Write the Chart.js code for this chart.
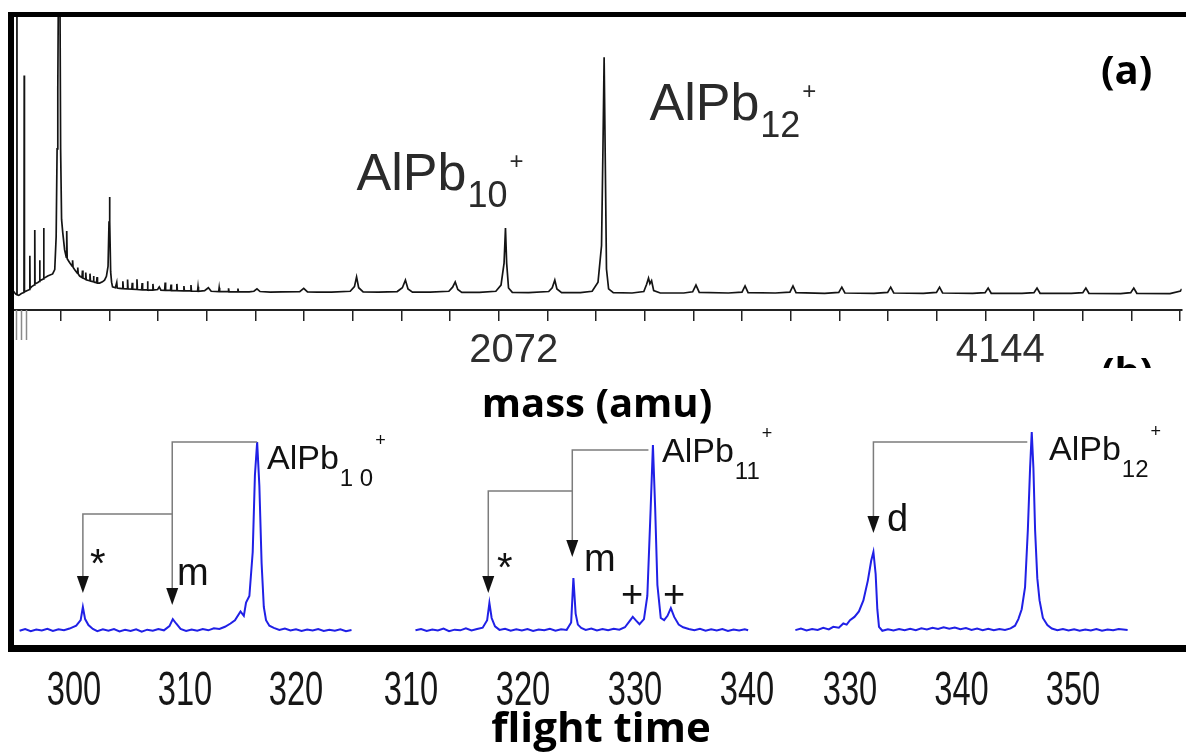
<!DOCTYPE html>
<html>
<head>
<meta charset="utf-8">
<script src="https://cdn.jsdelivr.net/npm/chart.js@4.4.0/dist/chart.umd.min.js"></script>
<style>
  body { margin: 0; background: #fff; }
  #wrap { position: relative; width: 1186px; height: 755px; overflow: hidden; background: #fff; }
  canvas { position: absolute; left: 0; }
  .bar { position: absolute; background: #000; }
</style>
</head>
<body>
<div id="wrap">
  <canvas id="chartA" width="1186" height="380" style="top:0"></canvas>
  <canvas id="chartB" width="1186" height="375" style="top:380px"></canvas>
  <div class="bar" style="left:8px;top:12px;width:6px;height:640px"></div>
  <div class="bar" style="left:8px;top:12px;width:1178px;height:5px"></div>
  <div class="bar" style="left:8px;top:645px;width:1178px;height:7px"></div>
</div>
<script>
// ---- panel (a): mass spectrum, [mass (amu), intensity] ----
const specA = [
  [0,6.0],[8,6.2],[16,5.4],[20.5,5.2],[21,130],[21.5,5.2],[29,5.0],[40,5.6],[51,6.0],[52,80],[53,6.2],
  [63,6.6],[75,7.0],[76,18.5],[77,7.4],[84,8.0],[96,8.6],[97,27.3],[98,8.9],[110,9.4],[117,9.8],[118,17],
  [119,10],[134,10.6],[135,28],[136,10.8],[152,11.6],[173,12.3],[182,13.8],[188,25],[192,55],[195,75],
  [199,130],[203,130],[207,55],[211,31],[216,26.5],[224,20.5],[231,18],[233,27],[235,17.5],[245,16.2],
  [256,15],[258,17],[260,14.6],[267,13.7],[278,12.6],[280,14.5],[282,12.3],[288,11.6],[298,11.1],[300,13.5],
  [302,10.9],[312,10.5],[314,12.8],[316,10.3],[330,10.0],[332,12.4],[334,9.9],[345,9.7],[347,11.6],[349,9.6],
  [360,9.3],[362,11.2],[364,9.2],[373,9.2],[385,9.6],[394,10.2],[402,11.5],[409,15],[413,30],[415,38.6],
  [417,30],[420,13],[424,9.5],[428,7.9],[440,7.6],[446,9.4],[448,7.5],[458,7.4],[470,7.3],[472,9.8],[474,7.3],
  [490,7.2],[492,10.4],[494,7.2],[510,7.1],[512,9.3],[514,7.1],[530,7.0],[532,10.5],[534,7.0],[552,6.9],
  [554,9.2],[556,6.9],[575,6.9],[577,9.8],[579,6.8],[598,6.8],[600,8.9],[602,6.8],[620,7.0],[627,7.9],
  [634,6.8],[650,6.7],[652,9.4],[654,6.7],[675,6.7],[677,8.7],[679,6.6],[700,6.6],[702,8.9],[704,6.6],
  [730,6.5],[732,8.2],[734,6.5],[760,6.5],[762,8.5],[764,6.4],[790,6.4],[792,7.9],[794,6.4],[820,6.6],
  [836,7.6],[848,6.4],[880,6.3],[882,7.6],[884,6.3],[920,6.3],[922,7.4],[924,6.2],[960,6.2],[962,7.3],
  [964,6.2],[1010,6.2],[1030,6.4],[1043,7.2],[1056,6.3],[1100,6.1],[1150,6.2],[1225,6.3],[1242,7.4],
  [1258,6.2],[1300,6.1],[1360,6.1],[1440,6.4],[1458,8.0],[1467,11.3],[1476,7.6],[1495,6.2],[1560,6.1],
  [1640,6.3],[1662,7.6],[1675,10.2],[1686,7.2],[1705,6.1],[1780,6.1],[1860,6.4],[1876,7.8],[1887,9.6],
  [1898,7.0],[1915,6.0],[1990,6.0],[2060,6.4],[2082,8.5],[2095,16],[2101,28],[2106,16],[2114,7.5],
  [2130,6.0],[2200,5.9],[2285,6.3],[2300,7.6],[2311,10.2],[2320,7.2],[2340,5.9],[2420,5.9],[2470,6.4],
  [2495,9.5],[2510,22],[2516,55],[2521,86.3],[2526,50],[2531,14],[2540,7.2],[2560,5.9],[2640,5.8],
  [2690,6.3],[2702,8.8],[2710,10.9],[2716,9.0],[2723,10],[2732,6.6],[2760,5.8],[2860,5.8],[2898,6.2],
  [2912,8.5],[2926,6.0],[3050,5.8],[3108,6.1],[3121,8.2],[3134,5.9],[3250,5.8],[3312,6.1],[3325,8.2],
  [3338,5.9],[3460,5.7],[3520,6.0],[3533,7.8],[3546,5.8],[3670,5.7],[3728,6.0],[3741,7.8],[3754,5.8],
  [3880,5.7],[3936,6.0],[3949,7.8],[3962,5.8],[4090,5.7],[4143,5.9],[4156,7.5],[4169,5.7],[4300,5.7],
  [4351,5.9],[4364,7.5],[4377,5.7],[4510,5.7],[4559,5.9],[4572,7.5],[4585,5.7],[4720,5.6],[4763,5.9],
  [4776,7.5],[4789,5.7],[4930,5.6],[4975,6.5],[4980,7.2]
];
const massTicks = [207.2,414.4,621.6,828.8,1036,1243.2,1450.4,1657.6,1864.8,2072,2279.2,2486.4,
  2693.6,2900.8,3108,3315.2,3522.4,3729.6,3936.8,4144,4351.2,4558.4,4765.6,4972.8];
const massLabels = [2072, 4144];

// ---- panel (b): three flight time windows, [time, intensity] ----
const seg1 = [
  [295.1,4.2],[295.6,5.0],[296.1,4.0],[296.6,4.8],[297.1,4.3],[297.6,5.1],[298.1,4.1],[298.6,4.9],[299.1,4.4],
  [299.6,5.2],[300.2,6.5],[300.6,9.0],[300.8,15],[301.0,9.5],[301.3,6.8],[301.7,5.0],[302.1,4.0],[302.6,4.9],
  [303.1,4.2],[303.6,5.0],[304.1,3.9],[304.6,4.6],[305.1,4.1],[305.6,4.9],[306.1,3.8],[306.6,4.7],[307.1,4.2],
  [307.6,5.0],[308.1,4.4],[308.6,6.3],[308.9,9.5],[309.2,7.5],[309.6,5.0],[310.1,4.1],[310.6,4.8],[311.1,4.2],
  [311.6,5.0],[312.1,4.4],[312.6,5.3],[313.1,5.0],[313.6,6.0],[314.1,7.5],[314.5,9.0],[315.0,13],[315.3,11],
  [315.5,17],[315.8,20],[316.1,40],[316.3,75],[316.5,90],[316.7,70],[316.9,35],[317.1,15],[317.3,9],
  [317.6,6.5],[318.0,5.5],[318.5,4.6],[319.0,5.2],[319.5,4.3],[320.0,4.9],[320.5,4.1],[321.0,4.8],[321.5,4.3],
  [322.0,5.0],[322.5,4.1],[323.0,4.7],[323.5,4.2],[324.0,4.9],[324.5,4.0],[325.0,4.5]
];
const seg2 = [
  [310.4,4.4],[310.9,5.0],[311.4,4.1],[311.9,4.8],[312.4,4.3],[312.9,5.2],[313.4,4.0],[313.9,4.7],[314.4,4.4],
  [314.9,5.3],[315.4,4.3],[315.9,5.0],[316.4,5.6],[316.8,9],[317.0,16.8],[317.2,10],[317.5,6.2],[317.9,4.6],
  [318.4,5.1],[318.9,4.2],[319.4,4.9],[319.9,4.3],[320.4,5.0],[320.9,4.1],[321.4,4.8],[321.9,4.4],[322.4,5.1],
  [322.9,4.2],[323.4,4.9],[323.9,4.6],[324.3,8],[324.5,28.2],[324.7,12],[324.9,7],[325.2,5.5],[325.6,4.6],
  [326.1,5.2],[326.6,4.3],[327.1,5.0],[327.6,4.4],[328.1,5.1],[328.6,4.7],[329.1,5.8],[329.5,8.5],[329.8,10.5],
  [330.1,8.8],[330.4,7.2],[330.8,9.5],[331.1,20],[331.4,60],[331.6,88.6],[331.8,60],[332.0,25],[332.3,10],
  [332.6,9],[332.9,11],[333.2,14.5],[333.5,10.5],[333.9,7.0],[334.3,5.8],[334.8,5.0],[335.3,4.4],[335.8,5.1],
  [336.3,4.2],[336.8,4.9],[337.3,4.3],[337.8,5.0],[338.3,4.1],[338.8,4.8],[339.3,4.3],[339.8,4.9],[340.1,4.4]
];
const seg3 = [
  [325.1,4.5],[325.6,5.2],[326.1,4.3],[326.6,5.0],[327.1,4.6],[327.6,5.5],[328.1,4.8],[328.5,6.0],[329.0,5.6],
  [329.4,7.5],[329.7,7.0],[330.0,9.0],[330.4,10.5],[330.8,13],[331.2,18],[331.6,27],[331.9,36],[332.1,40],
  [332.3,30],[332.45,14],[332.6,6.0],[332.9,4.2],[333.4,4.9],[333.9,4.3],[334.4,5.0],[334.9,4.4],[335.4,5.1],
  [335.9,4.5],[336.4,5.3],[336.9,4.8],[337.4,5.6],[337.9,5.0],[338.4,5.8],[338.9,5.1],[339.4,5.7],[339.9,4.9],
  [340.4,5.4],[340.9,4.6],[341.4,5.2],[341.9,4.5],[342.4,5.1],[342.9,4.4],[343.4,5.0],[343.9,4.6],[344.4,5.3],
  [344.8,6.5],[345.1,9.5],[345.4,14],[345.7,24],[345.95,50],[346.15,78],[346.3,94.5],[346.45,78],[346.6,50],
  [346.8,28],[347.0,18],[347.3,10],[347.7,6.8],[348.1,5.2],[348.6,4.4],[349.1,5.0],[349.6,4.3],[350.1,4.9],
  [350.6,4.2],[351.1,4.8],[351.6,4.3],[352.1,5.0],[352.6,4.2],[353.1,4.8],[353.6,4.4],[354.1,5.0],[354.9,4.5]
];
const seg1Ticks = [300, 310, 320];
const seg2Ticks = [310, 320, 330, 340];
const seg3Ticks = [330, 340, 350];

// fragment arrows (parent -> product), in data units of each window
const arrows = [
  {axis: 'x1', pts: [[316.5, 90], [308.85, 90], [308.85, 15.9]]},
  {axis: 'x1', pts: [[308.85, 57.3], [300.8, 57.3], [300.8, 21.4]]},
  {axis: 'x2', pts: [[331.2, 86.4], [324.4, 86.4], [324.4, 37.7]]},
  {axis: 'x2', pts: [[324.4, 67.7], [316.9, 67.7], [316.9, 21.4]]},
  {axis: 'x3', pts: [[345.9, 90], [332.1, 90], [332.1, 48.6]]}
];
const marksB = [
  {axis: 'x1', x: 301.44, y: 28.6, t: '*', size: 40},
  {axis: 'x1', x: 309.28, y: 25.0, t: 'm', size: 38},
  {axis: 'x2', x: 317.68, y: 26.8, t: '*', size: 40},
  {axis: 'x2', x: 325.45, y: 31.4, t: 'm', size: 38},
  {axis: 'x2', x: 328.75, y: 15.0, t: '+', size: 38},
  {axis: 'x2', x: 332.5, y: 15.0, t: '+', size: 38},
  {axis: 'x3', x: 333.32, y: 49.5, t: 'd', size: 38}
];
const chemB = [
  {axis: 'x1', x: 317.39, y: 77.7, sub: '1 0'},
  {axis: 'x2', x: 332.41, y: 80.9, sub: '11'},
  {axis: 'x3', x: 347.85, y: 81.8, sub: '12'}
];
const chemA = [
  {x: 1467, y: 41, sub: '10'},
  {x: 2714, y: 64.8, sub: '12'}
];

const SANS = '"Liberation Sans", Arial, sans-serif';
const BOLD = '"Open Sans", sans-serif';

function drawChem(ctx, x, y, sub, b, s, p, subDy, supDy) {
  ctx.textAlign = 'left';
  ctx.textBaseline = 'alphabetic';
  ctx.font = b + 'px ' + SANS;
  ctx.fillText('AlPb', x, y);
  let w = ctx.measureText('AlPb').width;
  ctx.font = s + 'px ' + SANS;
  ctx.fillText(sub, x + w + 1, y + subDy);
  w += ctx.measureText(sub).width;
  ctx.font = p + 'px ' + SANS;
  ctx.fillText('+', x + w + 3, y + supDy);
}

const annotA = {
  id: 'annotA',
  afterDatasetsDraw(chart) {
    const ctx = chart.ctx, xs = chart.scales.x, ys = chart.scales.y;
    ctx.save();
    ctx.fillStyle = '#2a2a2a';
    chemA.forEach(c => drawChem(ctx, xs.getPixelForValue(c.x), ys.getPixelForValue(c.y), c.sub, 52, 36, 24, 17, -21));
    // stray spikes reaching below the axis
    ctx.strokeStyle = '#8a8a8a';
    ctx.lineWidth = 1.5;
    [16, 38, 58].forEach(m => {
      const px = Math.round(xs.getPixelForValue(m)) + 0.5;
      ctx.beginPath(); ctx.moveTo(px, chart.chartArea.bottom); ctx.lineTo(px, chart.chartArea.bottom + 30); ctx.stroke();
    });
    ctx.fillStyle = '#000';
    ctx.font = 'bold 40px ' + BOLD;
    ctx.fillText('(a)', 1101, 84);
    ctx.beginPath(); ctx.rect(0, 0, 1186, 368); ctx.clip();
    ctx.fillText('(b)', 1101, 386);
    ctx.restore();
  }
};

const chartA = new Chart(document.getElementById('chartA'), {
  type: 'line',
  data: {
    datasets: [{
      data: specA.map(p => ({x: p[0], y: p[1]})),
      borderColor: '#141414',
      borderWidth: 1.7,
      pointRadius: 0,
      tension: 0
    }]
  },
  options: {
    responsive: false,
    animation: false,
    layout: {padding: {left: 12, right: 0, top: 17, bottom: 0}},
    plugins: {legend: {display: false}, tooltip: {enabled: false}},
    scales: {
      x: {
        type: 'linear', min: 0, max: 4980,
        afterBuildTicks: s => { s.ticks = massTicks.map(v => ({value: v})); },
        afterFit: s => { s.height = 70; },
        grid: {drawOnChartArea: false, drawTicks: true, tickLength: 11, color: '#222', lineWidth: 1.5},
        border: {display: true, color: '#222', width: 2},
        ticks: {
          autoSkip: false, maxRotation: 0, padding: 6, labelOffset: 15,
          color: '#2e2e2e', font: {family: SANS, size: 40},
          callback: v => massLabels.includes(Math.round(v)) ? String(Math.round(v)) : ''
        }
      },
      y: {display: false, min: 0, max: 100}
    }
  },
  plugins: [annotA]
});

// each window gets its own x scale across the full plot width;
// [anchor value, anchor pixel, pixels per unit]
const winLayout = {x1: [300, 74, 11.1], x2: [310, 411, 11.2], x3: [330, 850, 11.15]};
const areaL = 13, areaR = 1186;
function winScale(id) {
  const [v, px, k] = winLayout[id];
  return {type: 'linear', axis: 'x', position: 'bottom', display: false,
          min: v - (px - areaL) / k, max: v + (areaR - px) / k};
}

const annotB = {
  id: 'annotB',
  afterDatasetsDraw(chart) {
    const ctx = chart.ctx, ys = chart.scales.y;
    ctx.save();
    arrows.forEach(a => {
      const xs = chart.scales[a.axis];
      const p = a.pts.map(q => [xs.getPixelForValue(q[0]), ys.getPixelForValue(q[1])]);
      ctx.strokeStyle = '#7c7c7c';
      ctx.lineWidth = 1.5;
      ctx.beginPath();
      ctx.moveTo(p[0][0], p[0][1]);
      for (let i = 1; i < p.length; i++) ctx.lineTo(p[i][0], p[i][1] - (i === p.length - 1 ? 14 : 0));
      ctx.stroke();
      const tip = p[p.length - 1];
      ctx.fillStyle = '#111';
      ctx.beginPath();
      ctx.moveTo(tip[0], tip[1]);
      ctx.lineTo(tip[0] - 6, tip[1] - 17);
      ctx.lineTo(tip[0] + 6, tip[1] - 17);
      ctx.closePath();
      ctx.fill();
    });
    ctx.fillStyle = '#111';
    ctx.textAlign = 'left';
    ctx.textBaseline = 'alphabetic';
    marksB.forEach(m => {
      ctx.font = m.size + 'px ' + SANS;
      ctx.fillText(m.t, chart.scales[m.axis].getPixelForValue(m.x), ys.getPixelForValue(m.y));
    });
    chemB.forEach(c => drawChem(ctx, chart.scales[c.axis].getPixelForValue(c.x), ys.getPixelForValue(c.y), c.sub, 34, 24, 18, 17, -23));

    // condensed tick labels under each window
    ctx.fillStyle = '#161616';
    ctx.textAlign = 'center';
    ctx.font = '48px ' + SANS;
    [['x1', seg1Ticks], ['x2', seg2Ticks], ['x3', seg3Ticks]].forEach(([id, ticks]) => {
      ticks.forEach(t => {
        ctx.save();
        ctx.translate(chart.scales[id].getPixelForValue(t), 325);
        ctx.scale(0.68, 1);
        ctx.fillText(String(t), 0, 0);
        ctx.restore();
      });
    });

    ctx.fillStyle = '#000';
    ctx.font = 'bold 40px ' + BOLD;
    ctx.fillText('mass (amu)', 597, 37);
    ctx.font = 'bold 42px ' + BOLD;
    ctx.fillText('flight time', 601, 362);
    ctx.restore();
  }
};

const lineStyle = {borderColor: '#2020e6', borderWidth: 2, pointRadius: 0, tension: 0};
const chartB = new Chart(document.getElementById('chartB'), {
  type: 'line',
  data: {
    datasets: [
      Object.assign({data: seg1.map(p => ({x: p[0], y: p[1]})), xAxisID: 'x1'}, lineStyle),
      Object.assign({data: seg2.map(p => ({x: p[0], y: p[1]})), xAxisID: 'x2'}, lineStyle),
      Object.assign({data: seg3.map(p => ({x: p[0], y: p[1]})), xAxisID: 'x3'}, lineStyle)
    ]
  },
  options: {
    responsive: false,
    animation: false,
    layout: {padding: {left: areaL, right: 1186 - areaR, top: 40, bottom: 115}},
    plugins: {legend: {display: false}, tooltip: {enabled: false}},
    scales: {
      x1: winScale('x1'),
      x2: winScale('x2'),
      x3: winScale('x3'),
      y: {display: false, min: 0, max: 100}
    }
  },
  plugins: [annotB]
});
</script>
</body>
</html>
